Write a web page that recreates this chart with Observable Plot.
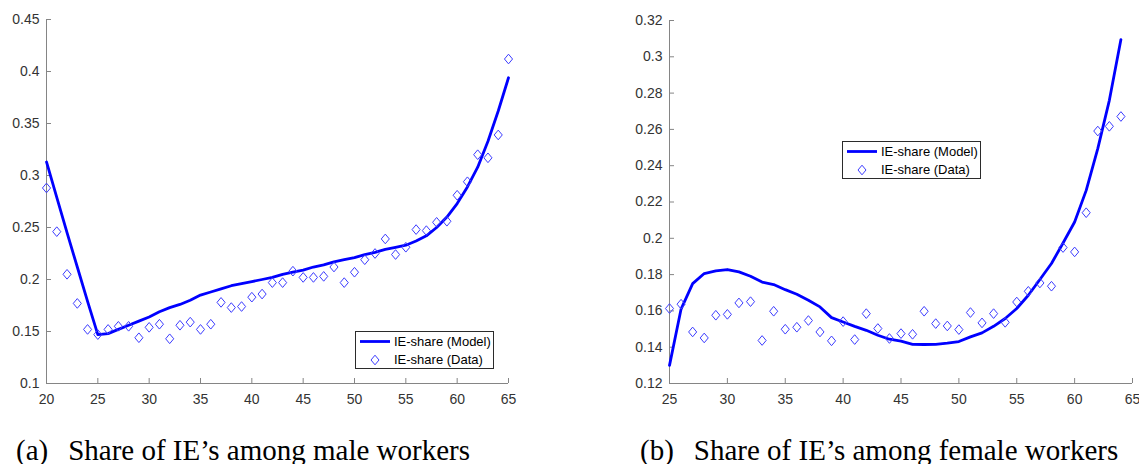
<!DOCTYPE html>
<html>
<head>
<meta charset="utf-8">
<script src="https://cdn.jsdelivr.net/npm/d3@7"></script>
<script src="https://cdn.jsdelivr.net/npm/@observablehq/plot@0.6"></script>
<style>
  body { margin: 0; background: #fff; width: 1139px; height: 464px; overflow: hidden; position: relative; font-family: "Liberation Sans", Arial, sans-serif; }
  .chart { position: absolute; top: 0; }
  .legend { position: absolute; box-sizing: border-box; width: 139px; height: 38px; border: 1px solid #2b2b2b; background: #fff; font-size: 13px; color: #000; }
  .legend .lbl { position: absolute; left: 38px; line-height: 15px; white-space: nowrap; }
  .legend svg { position: absolute; left: 0; top: 0; overflow: visible; }
  .caption { position: absolute; font-family: "Liberation Serif", "Times New Roman", serif; font-size: 29px; line-height: 29px; color: #000; white-space: pre; }
</style>
</head>
<body>
<div id="left" class="chart" style="left:0px"></div>
<div id="right" class="chart" style="left:560px"></div>
<script>
// ---------- data ----------
const maleAges = [20,21,22,23,24,25,26,27,28,29,30,31,32,33,34,35,36,37,38,39,40,41,42,43,44,45,46,47,48,49,50,51,52,53,54,55,56,57,58,59,60,61,62,63,64,65];
const maleModel = [0.313,0.279,0.245,0.212,0.179,0.147,0.148,0.152,0.156,0.160,0.164,0.169,0.173,0.176,0.180,0.185,0.188,0.191,0.194,0.196,0.198,0.200,0.202,0.205,0.207,0.209,0.212,0.214,0.217,0.219,0.221,0.224,0.226,0.229,0.231,0.233,0.237,0.242,0.250,0.260,0.273,0.289,0.308,0.333,0.362,0.394];
const maleData = [0.288,0.246,0.205,0.177,0.152,0.147,0.152,0.155,0.155,0.144,0.154,0.157,0.143,0.156,0.159,0.152,0.157,0.178,0.173,0.174,0.183,0.186,0.197,0.197,0.208,0.202,0.202,0.203,0.212,0.197,0.207,0.219,0.225,0.239,0.224,0.231,0.248,0.247,0.255,0.256,0.281,0.294,0.320,0.317,0.339,0.412];

const femaleAges = [25,26,27,28,29,30,31,32,33,34,35,36,37,38,39,40,41,42,43,44,45,46,47,48,49,50,51,52,53,54,55,56,57,58,59,60,61,62,63,64];
const femaleModel = [0.130,0.161,0.175,0.1806,0.182,0.1828,0.1815,0.1791,0.1759,0.1745,0.1717,0.1692,0.1659,0.1622,0.1563,0.1539,0.1515,0.1493,0.1466,0.1444,0.1433,0.1416,0.1415,0.1416,0.1422,0.1431,0.1457,0.1479,0.1515,0.1558,0.1613,0.1686,0.1773,0.1861,0.1974,0.209,0.2264,0.2494,0.276,0.3095];
const femaleData = [0.1613,0.1637,0.1484,0.1451,0.1576,0.1581,0.1644,0.1651,0.1437,0.1598,0.1499,0.151,0.1547,0.1484,0.1435,0.1541,0.1442,0.1585,0.1503,0.1448,0.1475,0.1471,0.1598,0.153,0.1517,0.1497,0.1591,0.1534,0.1585,0.1537,0.1649,0.1708,0.1754,0.1736,0.1949,0.1925,0.2141,0.2591,0.2617,0.2671];

const maleXTicks = [20,25,30,35,40,45,50,55,60,65];
const maleYTicks = [0.1,0.15,0.2,0.25,0.3,0.35,0.4,0.45];
const maleYLabels = ["0.1","0.15","0.2","0.25","0.3","0.35","0.4","0.45"];
const femaleXTicks = [25,30,35,40,45,50,55,60,65];
const femaleYTicks = [0.12,0.14,0.16,0.18,0.2,0.22,0.24,0.26,0.28,0.3,0.32];
const femaleYLabels = ["0.12","0.14","0.16","0.18","0.2","0.22","0.24","0.26","0.28","0.3","0.32"];

const legendLabels = ["IE-share (Model)", "IE-share (Data)"];
const captions = ["(a)", "Share of IE\u2019s among male workers", "(b)", "Share of IE\u2019s among female workers"];

// ---------- style ----------
const BLUE = "#0000ff";
const DOT = "#3c3cff";
const AXIS = "#858585";
const TEXT = "#333333";

// MATLAB-like diamond marker (slightly taller than wide)
const matDiamond = {
  draw(ctx, size) {
    const r = Math.sqrt(size / Math.PI);
    const w = r * 0.88, h = r * 1.05;
    ctx.moveTo(0, -h); ctx.lineTo(w, 0); ctx.lineTo(0, h); ctx.lineTo(-w, 0); ctx.closePath();
  }
};

function panel({ages, model, data, xDomain, yDomain, xTicks, yTicks, yLabels, width, height, ml, mr, mt, mb}) {
  const rows = ages.map((a, i) => ({age: a, model: model[i], data: data[i]}));
  const pw = width - ml - mr, ph = height - mt - mb;
  const fmt = d => yLabels[yTicks.findIndex(t => Math.abs(t - d) < 1e-9)];
  return Plot.plot({
    width, height,
    marginLeft: ml, marginRight: mr, marginTop: mt, marginBottom: mb,
    style: {fontFamily: "'Liberation Sans', Arial, sans-serif", fontSize: "14px", background: "transparent", overflow: "visible"},
    x: {domain: xDomain},
    y: {domain: yDomain},
    marks: [
      Plot.ruleX([xDomain[0]], {stroke: AXIS, strokeWidth: 1}),
      Plot.ruleY([yDomain[0]], {stroke: AXIS, strokeWidth: 1}),
      Plot.tickY(yTicks, {y: d => d, stroke: AXIS, insetRight: pw - 5}),
      Plot.tickX(xTicks, {x: d => d, stroke: AXIS, insetTop: ph - 5}),
      Plot.axisY({ticks: yTicks, tickSize: 0, tickPadding: 7, tickFormat: fmt, label: null, color: TEXT}),
      Plot.axisX({ticks: xTicks, tickSize: 0, tickPadding: 11, tickFormat: d => String(d), label: null, color: TEXT}),
      Plot.line(rows, {x: "age", y: "model", stroke: BLUE, strokeWidth: 2.8}),
      Plot.dot(rows, {x: "age", y: "data", symbol: matDiamond, r: 4.6, stroke: DOT, strokeWidth: 1, fill: "none"})
    ]
  });
}

document.getElementById("left").append(panel({
  ages: maleAges, model: maleModel, data: maleData,
  xDomain: [20, 65], yDomain: [0.1, 0.45],
  xTicks: maleXTicks, yTicks: maleYTicks, yLabels: maleYLabels,
  width: 540, height: 420, ml: 46, mr: 32, mt: 19, mb: 37
}));
document.getElementById("right").append(panel({
  ages: femaleAges, model: femaleModel, data: femaleData,
  xDomain: [25, 65], yDomain: [0.12, 0.32],
  xTicks: femaleXTicks, yTicks: femaleYTicks, yLabels: femaleYLabels,
  width: 579, height: 420, ml: 109, mr: 7, mt: 20, mb: 37
}));

// ---------- legends ----------
function legend(left, top) {
  const box = document.createElement("div");
  box.className = "legend";
  box.style.left = left + "px";
  box.style.top = top + "px";
  const ns = "http://www.w3.org/2000/svg";
  const svg = document.createElementNS(ns, "svg");
  svg.setAttribute("width", "139"); svg.setAttribute("height", "38");
  const ln = document.createElementNS(ns, "line");
  ln.setAttribute("x1", 4); ln.setAttribute("x2", 34); ln.setAttribute("y1", 9.5); ln.setAttribute("y2", 9.5);
  ln.setAttribute("stroke", BLUE); ln.setAttribute("stroke-width", 2.8);
  svg.append(ln);
  const dm = document.createElementNS(ns, "path");
  dm.setAttribute("d", "M19,23.2L23,28L19,32.8L15,28Z");
  dm.setAttribute("fill", "none"); dm.setAttribute("stroke", DOT); dm.setAttribute("stroke-width", 1);
  svg.append(dm);
  box.append(svg);
  legendLabels.forEach((t, i) => {
    const s = document.createElement("div");
    s.className = "lbl";
    s.textContent = t;
    s.style.top = (i === 0 ? 2 : 20) + "px";
    box.append(s);
  });
  document.body.append(box);
}
legend(355, 331);
legend(842, 141);

// ---------- captions ----------
function caption(left, tag, text) {
  const d = document.createElement("div");
  d.className = "caption";
  d.style.left = left + "px";
  d.style.top = "436px";
  const a = document.createElement("span");
  a.textContent = tag;
  const b = document.createElement("span");
  b.textContent = text;
  b.style.marginLeft = "20px";
  d.append(a, b);
  document.body.append(d);
}
caption(16, captions[0], captions[1]);
caption(640, captions[2], captions[3]);
</script>
</body>
</html>
